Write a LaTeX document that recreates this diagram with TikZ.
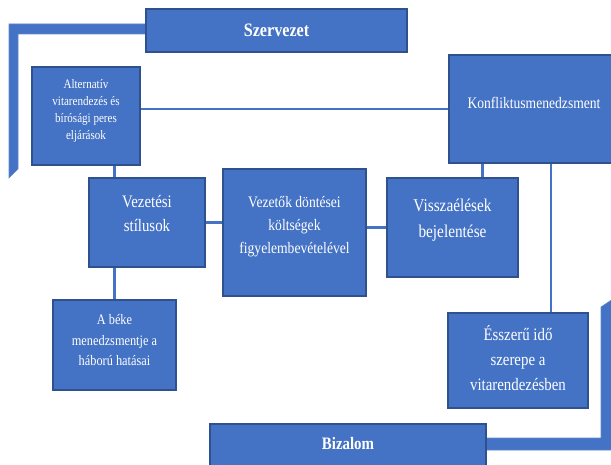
\documentclass[tikz,border=0pt]{standalone}
\usepackage{fontspec}
\setmainfont[FakeStretch=0.85]{Liberation Serif}
\usetikzlibrary{calc}
\definecolor{kek}{HTML}{4472C4}
\definecolor{kekkeret}{HTML}{2F528F}

\begin{document}
\begin{tikzpicture}[x=1pt, y=-1pt,
            blok/.style={rectangle, draw=kekkeret, fill=kek, line width=1.2pt, text=white, align=center, inner sep=2pt},
            kapocs/.style={draw=kek, line width=2.4pt},
            sav/.style={fill=kek, draw=kek!85!white, line width=0.6pt}
        ]
            \useasboundingbox (0,0) rectangle (611,465);
            \clip (0,0) rectangle (611,465);

            % keret savok
            \filldraw[sav] (9,24) -- (146,24) -- (146,34) -- (18,34) -- (18,169) -- (9,178) -- cycle;
            \filldraw[sav] (486,438) -- (601,438) -- (601,307) -- (613,299) -- (613,450) -- (486,450) -- cycle;

            \node[blok, minimum width=261pt, minimum height=43pt, font=\fontsize{19}{23}\selectfont\bfseries] (szervezet) at (276.5,30.5) {Szervezet};
            \node[blok, minimum width=108pt, minimum height=98pt, text depth=13pt, font=\fontsize{13}{17.3}\selectfont] (alternativ) at (86,116) {Alternatív\\vitarendezés és\\bírósági peres\\eljárások};
            \node[blok, minimum width=170pt, minimum height=108pt, text depth=12pt, font=\fontsize{16}{23}\selectfont] (konfliktus) at (534,109) {Konfliktusmenedzsment};
            \node[blok, minimum width=116pt, minimum height=89pt, text depth=18pt, font=\fontsize{17.5}{24}\selectfont] (vezetesi) at (147,222.5) {Vezetési\\stílusok};
            \node[blok, minimum width=143pt, minimum height=127pt, text depth=16pt, font=\fontsize{16}{23}\selectfont] (vezetok) at (294.5,232.5) {Vezetők döntései\\költségek\\figyelembevételével};
            \node[blok, minimum width=131pt, minimum height=99pt, text depth=18pt, font=\fontsize{18}{26}\selectfont] (visszaeles) at (452.5,227.5) {Visszaélések\\bejelentése};
            \node[blok, minimum width=140pt, minimum height=95pt, text depth=5pt, font=\fontsize{17.5}{25}\selectfont] (esszeru) at (518,360.5) {Ésszerű idő\\szerepe a\\vitarendezésben};
            \node[blok, minimum width=123pt, minimum height=90pt, text depth=10pt, font=\fontsize{14.5}{20.5}\selectfont] (beke) at (114.5,345) {A béke\\menedzsmentje a\\háború hatásai};
            \node[blok, minimum width=276pt, minimum height=44pt, text depth=6pt, font=\fontsize{17.5}{21}\selectfont\bfseries] (bizalom) at (348,446) {Bizalom};

            \coordinate (k1) at ($(konfliktus.south west)!0.2!(konfliktus.south east)$);
            \coordinate (k2) at ($(konfliktus.south west)!0.6!(konfliktus.south east)$);

            \draw[kapocs] (konfliktus.west) -- (konfliktus.west -| alternativ.east);
            \draw[kapocs] (alternativ.south -| beke.north) -- (vezetesi.north -| beke.north);
            \draw[kapocs] (vezetesi.south -| beke.north) -- (beke.north);
            \draw[kapocs] (vezetesi.east) -- (vezetesi.east -| vezetok.west);
            \draw[kapocs] (visszaeles.west -| vezetok.east) -- (visszaeles.west);
            \draw[kapocs] (k1) -- (k1 |- visszaeles.north);
            \draw[kapocs] (k2) -- (k2 |- esszeru.north);
        \end{tikzpicture}
\end{document}
